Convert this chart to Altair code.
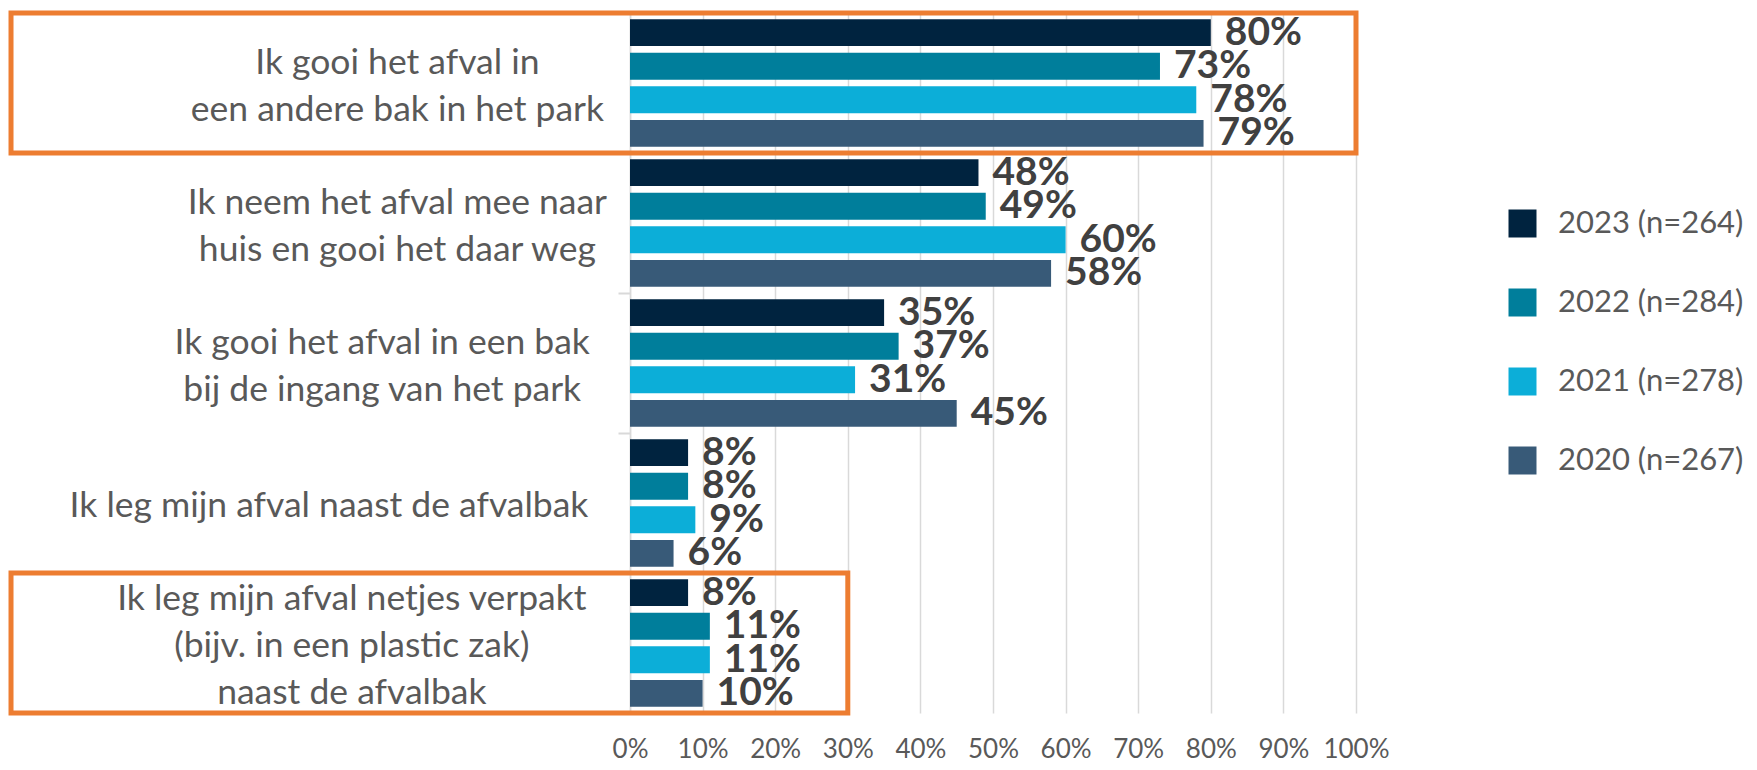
import altair as alt
import pandas as pd

categories = [
    "Ik gooi het afval in\neen andere bak in het park",
    "Ik neem het afval mee naar\nhuis en gooi het daar weg",
    "Ik gooi het afval in een bak\nbij de ingang van het park",
    "Ik leg mijn afval naast de afvalbak",
    "Ik leg mijn afval netjes verpakt\n(bijv. in een plastic zak)\nnaast de afvalbak",
]
years = ["2023 (n=264)", "2022 (n=284)", "2021 (n=278)", "2020 (n=267)"]
v2023 = [80, 48, 35, 8, 8]
v2022 = [73, 49, 37, 8, 11]
v2021 = [78, 60, 31, 9, 11]
v2020 = [79, 58, 45, 6, 10]
colors = ["#00233F", "#007E9B", "#0CAED8", "#385A78"]

highlight_cats = [categories[0], categories[4]]
highlight_end = [100, 30]

rows = []
for y, vals in zip(years, [v2023, v2022, v2021, v2020]):
    for c, v in zip(categories, vals):
        rows.append({"cat": c, "year": y, "value": v})
df = pd.DataFrame(rows)

# one row per printed line of the category labels
line_rows = []
for ci, c in enumerate(categories):
    parts = c.split("\n")
    for li, p in enumerate(parts):
        line_rows.append({"cat_idx": ci, "line": li, "n": len(parts),
                          "maxlen": max(len(x) for x in parts), "text": p})
lines_df = pd.DataFrame(line_rows)

box_df = pd.DataFrame({"cat": highlight_cats, "end": highlight_end})

W, H = 726, 700
NCAT = len(categories)
STEP = H / NCAT
LH = 47          # line height of category labels (px)
CW = 15.2        # mean character width of the label font (px)
RIGHT = -35      # right edge of the label blocks, relative to the plot (px)
LABEL_FS = 35.5

xscale = alt.Scale(domain=[0, 100], nice=False, zero=True)
yscale = alt.Scale(paddingInner=0, paddingOuter=0)

y_enc = alt.Y(
    "cat:N",
    sort=categories,
    scale=yscale,
    axis=alt.Axis(
        title=None,
        labels=False,
        domainColor="#D9D9D9",
        domainWidth=1.5,
        ticks=True,
        tickBand="extent",
        tickSize=12,
        tickColor="#D9D9D9",
        tickWidth=2,
    ),
)

x_enc = alt.X(
    "value:Q",
    scale=xscale,
    axis=alt.Axis(
        title=None,
        values=list(range(0, 101, 10)),
        labelExpr="datum.value + '%'",
        labelOverlap=False,
        labelFlush=False,
        domain=False,
        ticks=False,
        grid=True,
        gridColor="#D9D9D9",
        gridWidth=1.5,
        labelFont="Lato",
        labelFontSize=26,
        labelColor="#595959",
        labelPadding=23,
    ),
)

yoff = alt.YOffset("year:N", sort=years,
                   scale=alt.Scale(paddingInner=0.2, paddingOuter=0.183))

bars = alt.Chart(df).mark_bar().encode(
    x=x_enc,
    y=y_enc,
    yOffset=yoff,
    color=alt.Color(
        "year:N",
        sort=years,
        scale=alt.Scale(domain=years, range=colors),
        legend=alt.Legend(
            title=None,
            orient="none",
            legendX=877,
            legendY=195,
            symbolType="square",
            symbolSize=784,
            symbolStrokeWidth=0,
            labelFont="Lato",
            labelFontSize=31,
            labelColor="#595959",
            labelOffset=20,
            labelLimit=500,
            rowPadding=47,
            padding=0,
        ),
    ),
)

labels = alt.Chart(df).transform_calculate(
    label="datum.value + '%'"
).mark_text(
    align="left", baseline="middle", dx=14, font="Lato", fontWeight="bold",
    fontSize=39, color="#404040"
).encode(
    x=alt.X("value:Q", scale=xscale),
    y=alt.Y("cat:N", sort=categories, scale=yscale),
    yOffset=yoff,
    text="label:N",
)

main = alt.layer(bars, labels)

boxes = alt.Chart(box_df).transform_calculate(
    start="-85.26"
).mark_rect(
    fillOpacity=0, stroke="#ED7D31", strokeWidth=5,
).encode(
    x=alt.X("start:Q", scale=xscale),
    x2="end:Q",
    y=alt.Y("cat:N", sort=categories,
            scale=alt.Scale(domain=categories, paddingInner=0, paddingOuter=0),
            axis=None),
)

cat_labels = alt.Chart(lines_df).transform_calculate(
    ypos=f"datum.cat_idx + 0.5 + (datum.line - (datum.n - 1) / 2) * {LH / STEP} + {3 / STEP}",
    xpos=f"({RIGHT} - datum.maxlen * {CW} / 2) / {W / 100}",
).mark_text(
    align="center", baseline="middle", font="Lato", fontSize=LABEL_FS,
    color="#595959",
).encode(
    x=alt.X("xpos:Q", scale=xscale),
    y=alt.Y("ypos:Q", scale=alt.Scale(domain=[0, NCAT], reverse=True, nice=False, zero=False),
            axis=None),
    text="text:N",
)

chart = alt.layer(main, boxes, cat_labels).resolve_scale(y="independent").properties(
    width=W,
    height=H,
    autosize=alt.AutoSizeParams(type="none"),
    padding={"left": 622, "top": 5, "right": 393, "bottom": 49},
).configure_view(stroke=None)

chart.save("out.html", embed_options={"renderer": "svg", "actions": False})
